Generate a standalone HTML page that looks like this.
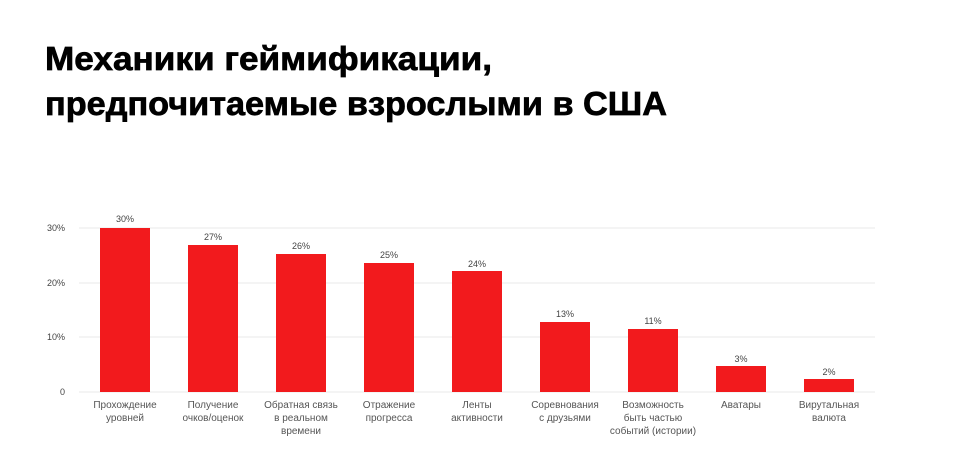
<!DOCTYPE html>
<html><head><meta charset="utf-8"><style>
body{margin:0;background:#fff;}
svg{display:block;font-family:"Liberation Sans",sans-serif;}
</style></head><body>
<svg width="965" height="466" viewBox="0 0 965 466">
<g stroke="#000" stroke-width="0.7">
<text x="45" y="70" font-size="33" font-weight="bold" fill="#000" textLength="447" lengthAdjust="spacingAndGlyphs">Механики геймификации,</text>
<text x="45" y="115" font-size="33" font-weight="bold" fill="#000" textLength="622" lengthAdjust="spacingAndGlyphs">предпочитаемые взрослыми в США</text>
</g>
<g stroke="#e8e8e8" stroke-width="1">
<line x1="79" y1="228" x2="875" y2="228"/>
<line x1="79" y1="283" x2="875" y2="283"/>
<line x1="79" y1="337" x2="875" y2="337"/>
<line x1="79" y1="392" x2="875" y2="392"/>
</g>
<g font-size="9" fill="#444" text-anchor="end">
<text x="65" y="231">30%</text><text x="65" y="286">20%</text><text x="65" y="340">10%</text><text x="65" y="395">0</text>
</g>
<g fill="#f21a1d">
<rect x="100" y="228" width="50" height="164"/>
<rect x="188" y="245" width="50" height="147"/>
<rect x="276" y="254" width="50" height="138"/>
<rect x="364" y="263" width="50" height="129"/>
<rect x="452" y="271" width="50" height="121"/>
<rect x="540" y="322" width="50" height="70"/>
<rect x="628" y="329" width="50" height="63"/>
<rect x="716" y="366" width="50" height="26"/>
<rect x="804" y="379" width="50" height="13"/>
</g>
<g font-size="9" fill="#444" text-anchor="middle">
<text x="125" y="222">30%</text><text x="213" y="240">27%</text><text x="301" y="249">26%</text><text x="389" y="258">25%</text><text x="477" y="267">24%</text><text x="565" y="317">13%</text><text x="653" y="324">11%</text><text x="741" y="362">3%</text><text x="829" y="375">2%</text>
</g>
<g font-size="10" fill="#555" text-anchor="middle">
<text x="125" y="408">Прохождение</text><text x="125" y="421">уровней</text>
<text x="213" y="408">Получение</text><text x="213" y="421">очков/оценок</text>
<text x="301" y="408">Обратная связь</text><text x="301" y="421">в реальном</text><text x="301" y="434">времени</text>
<text x="389" y="408">Отражение</text><text x="389" y="421">прогресса</text>
<text x="477" y="408">Ленты</text><text x="477" y="421">активности</text>
<text x="565" y="408">Соревнования</text><text x="565" y="421">с друзьями</text>
<text x="653" y="408">Возможность</text><text x="653" y="421">быть частью</text><text x="653" y="434">событий (истории)</text>
<text x="741" y="408">Аватары</text>
<text x="829" y="408">Вирутальная</text><text x="829" y="421">валюта</text>
</g>
</svg>
</body></html>
